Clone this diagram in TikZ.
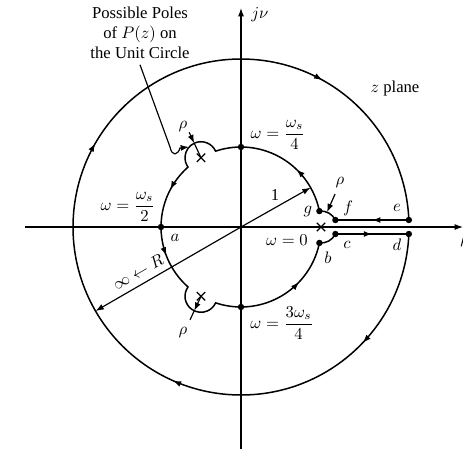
\documentclass[tikz,border=0pt]{standalone}
\usepackage{amsmath}
\usepackage{fontspec}
\setmainfont{Liberation Serif}
\usetikzlibrary{arrows.meta, decorations.markings, shapes.misc, calc}
\newcommand{\arrtip}{\arrow{Latex[length=5pt, width=3.6pt]}}
\tikzset{
    axis/.style={line width=0.7pt, -{Latex[length=5pt, width=3.6pt]}},
    contour/.style={line width=0.9pt},
    flow/.style={postaction={decorate, decoration={markings, mark=at position #1 with {\arrtip}}}},
    arrow/.style={line width=0.7pt, -{Latex[length=5pt, width=3.6pt]}},
    pole/.style={cross out, draw, line width=0.8pt, inner sep=0pt, minimum size=4.2pt}
}

\begin{document}
\begin{tikzpicture}[x=0.6pt, y=0.6pt]
\useasboundingbox (-241,-222) rectangle (222,227);
% axes
\coordinate (o) at (0,0);
\coordinate (west) at (-216,0);
\coordinate (east) at (222,0);
\coordinate (south) at (0,-222);
\coordinate (north) at (0,219);
\draw[axis] (west) -- (east);
\draw[axis] (south) -- (north);
\node (nulbl) at (19,212) {$j\nu$};
\node[anchor=west, inner sep=0pt] (mulbl) at (219,-15) {$\mu$};
\node (plane) at (154,139) {$z$ plane};

% poles on the unit circle
\node[pole] (xc) at (0:80) {};
\node[pole] (xa) at (120:80) {};
\node[pole] (xb) at (240:80) {};

% points of the contour
\coordinate (g) at (11.48:80);
\coordinate (b) at (-11.48:80);
\coordinate (f) at (94.4,7);
\coordinate (c) at (94.4,-7);
\coordinate (e) at (167.85,7);
\coordinate (d) at (167.85,-7);
\coordinate (top) at (90:80);
\coordinate (a) at (180:80);
\coordinate (bot) at (270:80);

% outer circle, radius R
\draw[contour, flow=0.116, flow=0.314, flow=0.584, flow=0.835] (d)
    arc[start angle=-2.39, end angle=-357.61, radius=168];
% unit circle, going round the poles
\draw[contour, flow=0.094, flow=0.424, flow=0.557, flow=0.913] (g)
    arc[start angle=11.48, end angle=108.52, radius=80]
    arc[start angle=24.26, end angle=215.74, radius=16]
    arc[start angle=131.48, end angle=228.52, radius=80]
    arc[start angle=144.26, end angle=335.74, radius=16]
    arc[start angle=251.48, end angle=348.52, radius=80];
\draw[contour] (b) arc[start angle=264.26, end angle=334.06, radius=16];
\draw[contour, flow=0.5] (c) -- (d);
\draw[contour, flow=0.5] (e) -- (f);
\draw[contour] (f) arc[start angle=25.94, end angle=95.74, radius=16];
\foreach \p in {g,f,e,d,c,b,top,a,bot}
    \fill (\p) circle[radius=3.2];

% radii
\coordinate (one) at (29.5:80);
\coordinate (rinf) at (210:168);
\draw[arrow] (o) -- (one);
\draw[arrow] (o) -- (rinf);
\node (onelbl) at (34,32) {1};
\node[rotate=30] (rlbl) at (-103,-45) {$\infty \leftarrow R$};

% rho
\node (rhoc) at (99,44) {$\rho$};
\draw[arrow] (rhoc) -- ($(xc.center)+(68:16)$);
\node (rhoa) at (-58,100) {$\rho$};
\draw[arrow] ($(xa.center)+(115:28)$) -- ($(xa.center)+(115:16)$);
\draw[line width=0.7pt] ($(xa.center)+(115:16)$) -- (xa.center);
\node (rhob) at (-58,-106) {$\rho$};
\draw[arrow] (xb.center) -- ($(xb.center)+(245:16)$);
\draw[line width=0.7pt] ($(xb.center)+(245:16)$) -- ($(xb.center)+(245:26)$);

% labels
\node[align=center] (poles) at (-101,194) {Possible Poles\\of $P(z)$ on\\the Unit Circle};
\draw[arrow] (poles.south) -- (-71,80) .. controls (-69,70) and (-63,72) .. (-61,79) -- (-52,80);
\node (wq) at (37,92) {$\omega = \dfrac{\omega_s}{4}$};
\node (wh) at (-113,20) {$\omega = \dfrac{\omega_s}{2}$};
\node (wz) at (46,-13) {$\omega = 0$};
\node (w3) at (41,-96) {$\omega = \dfrac{3\omega_s}{4}$};
\node (la) at (-66,-11) {$a$};
\node (lb) at (87,-31) {$b$};
\node (lc) at (106,-18) {$c$};
\node (ld) at (156,-18) {$d$};
\node (le) at (156,19) {$e$};
\node (lf) at (107,19) {$f$};
\node (lg) at (67,15) {$g$};
\end{tikzpicture}
\end{document}
